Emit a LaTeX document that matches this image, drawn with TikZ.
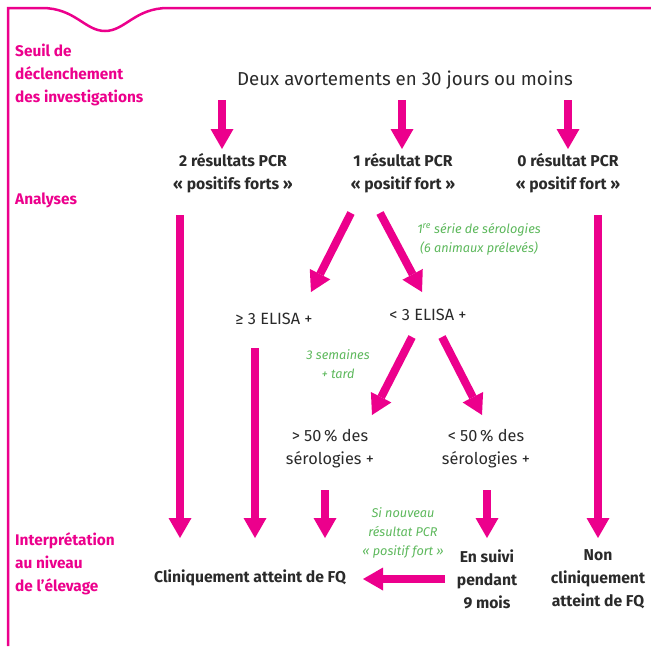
\documentclass[tikz,border=0pt]{standalone}
\usepackage{fontspec}
\setmainfont{Fira Sans}
\usetikzlibrary{arrows.meta}
\definecolor{pk}{HTML}{EC008C}
\definecolor{gn}{HTML}{5DB85C}
\definecolor{tx}{HTML}{2A2A2A}
\begin{document}
\begin{tikzpicture}[x=1pt,y=-1pt,
 arr/.style={pk, line width=8pt, -{Triangle[width=23pt,length=20pt,line width=0pt]}},
 lab/.style={text=pk, font=\bfseries\fontsize{15.4}{22.8}\selectfont, align=left, anchor=west, inner sep=0},
 box/.style={text=tx, font=\fontsize{16.3}{23}\selectfont, align=center, inner sep=0},
 bbox/.style={box, font=\bfseries\fontsize{15.7}{23}\selectfont},
 note/.style={text=gn, font=\itshape\fontsize{12.7}{19}\selectfont, align=center, inner sep=0}]
\useasboundingbox (0,0) rectangle (651,646);
% frame
\draw[pk, line width=2.5pt] (8,646) -- (8,8) -- (42,8) .. controls (75,8) and (85,31) .. (105,31) .. controls (125,31) and (135,8) .. (168,8) -- (651,8);
% left labels
\node[lab] (l1) at (15,75) {Seuil de\\déclenchement\\des investigations};
\node[lab] (l2) at (15,200) {Analyses};
\node[lab] (l3) at (15,564) {Interprétation\\au niveau\\de l’élevage};
% nodes
\node[box, font=\fontsize{18.7}{22}\selectfont] (top) at (405,80) {Deux avortements en 30 jours ou moins};
\node[bbox] (p2) at (233,173) {2 résultats PCR\\« positifs forts »};
\node[bbox] (p1) at (403,173) {1 résultat PCR\\« positif fort »};
\node[bbox] (p0) at (568,173) {0 résultat PCR\\« positif fort »};
\node[box] (e3) at (274,319) {≥ 3 ELISA +};
\node[box] (el) at (428,315) {< 3 ELISA +};
\node[box] (s50) at (330,449) {> 50\,\% des\\sérologies +};
\node[box] (i50) at (486,449) {< 50\,\% des\\sérologies +};
\node[bbox] (cl) at (250,578) {Cliniquement atteint de FQ};
\node[bbox] (sv) at (487,579) {En suivi\\pendant\\9 mois};
\node[bbox] (nc) at (598,579) {Non\\cliniquement\\atteint de FQ};
\node[note] (n1) at (479,239) {1\textsuperscript{re} série de sérologies\\(6 animaux prélevés)};
\node[note] (n2) at (338,364) {3 semaines\\+ tard};
\node[note] (n3) at (403,533) {Si nouveau\\résultat PCR\\« positif fort »};
% arrows
\draw[arr] ([shift={(-183,20)}]top.center) -- ([shift={(-11,-24)}]p2.center);
\draw[arr] ([shift={(-3,20)}]top.center) -- ([shift={(-1,-24)}]p1.center);
\draw[arr] ([shift={(163,20)}]top.center) -- ([shift={(0,-24)}]p0.center);
\draw[arr] ([shift={(-53,42)}]p2.center) -- ([shift={(-70,-40)}]cl.center);
\draw[arr] ([shift={(30,42)}]p0.center) -- ([shift={(0,-41)}]nc.center);
\draw[arr] ([shift={(-52,40)}]p1.center) -- ([shift={(37,-27)}]e3.center);
\draw[arr] ([shift={(-23,40)}]p1.center) -- ([shift={(-6,-23)}]el.center);
\draw[arr] ([shift={(-19,29)}]e3.center) -- ([shift={(5,-40)}]cl.center);
\draw[arr] ([shift={(-16,22)}]el.center) -- ([shift={(42,-34)}]s50.center);
\draw[arr] ([shift={(14,22)}]el.center) -- ([shift={(-4,-34)}]i50.center);
\draw[arr] ([shift={(-5,41)}]s50.center) -- ([shift={(75,-40)}]cl.center);
\draw[arr] ([shift={(1,41)}]i50.center) -- ([shift={(0,-41)}]sv.center);
\draw[arr] ([shift={(-42,0)}]sv.center) -- ([shift={(113,1)}]cl.center);
\end{tikzpicture}
\end{document}
